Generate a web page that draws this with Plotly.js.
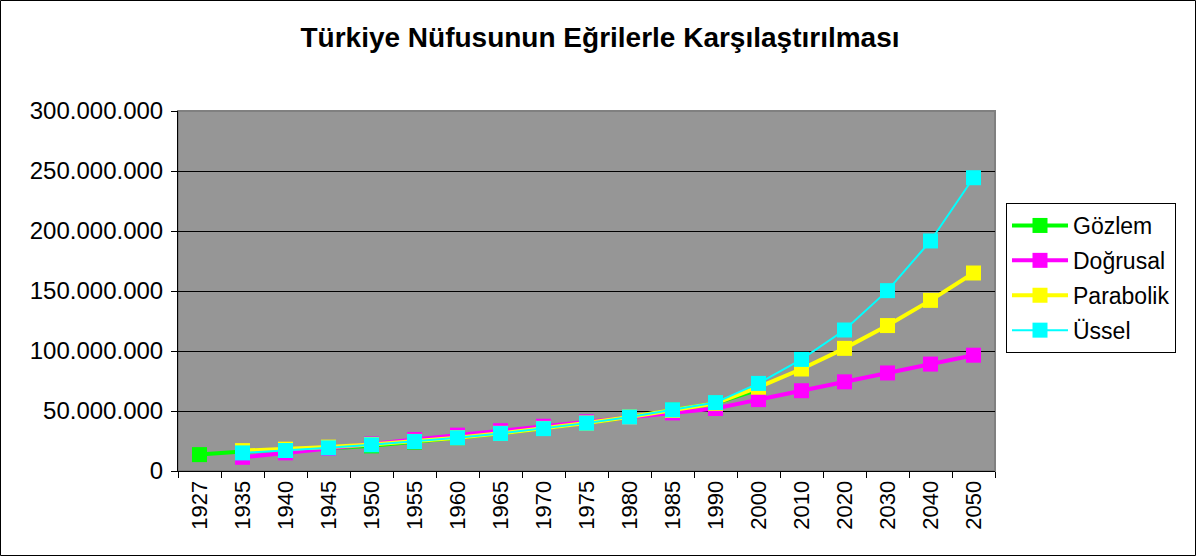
<!DOCTYPE html>
<html>
<head>
<meta charset="utf-8">
<script src="https://cdn.plot.ly/plotly-3.0.1.min.js"></script>
<style>html,body{margin:0;padding:0;background:#fff;}#chart{width:1197px;height:556px;}</style>
</head>
<body>
<div id="chart"></div>
<script>
const years = ['1927','1935','1940','1945','1950','1955','1960','1965','1970','1975','1980','1985','1990','2000','2010','2020','2030','2040','2050'];

const gozlemYears = ['1927','1935','1940','1945','1950','1955','1960','1965','1970','1975','1980','1985','1990','2000'];
const gozlem = [13648270, 16158018, 17820950, 18790174, 20947188, 24064763, 27754820, 31391421, 35605176, 40347719, 44736957, 50664458, 56473035, 67803927];

const fitYears = ['1935','1940','1945','1950','1955','1960','1965','1970','1975','1980','1985','1990','2000','2010','2020','2030','2040','2050'];
const dogrusal = [11400000, 15100000, 18800000, 22500000, 26200000, 29900000, 33600000, 37300000, 41000000, 44700000, 48400000, 52100000, 59500000, 66900000, 74300000, 81700000, 89100000, 96500000];
const parabolik = [17000000, 18200000, 19900000, 22100000, 24700000, 27800000, 31400000, 35500000, 40000000, 45000000, 50500000, 56400000, 69800000, 85000000, 102200000, 121200000, 142200000, 165000000];
const ussel = [15100000, 17100000, 19300000, 21800000, 24600000, 27700000, 31300000, 35300000, 39900000, 45000000, 51000000, 57000000, 73000000, 93000000, 117500000, 150300000, 191700000, 244400000];

const seriesNames = ['Gözlem', 'Doğrusal', 'Parabolik', 'Üssel'];
const seriesColors = ['#00FF00', '#FF00FF', '#FFFF00', '#00FFFF'];
const lineWidths = [4, 4, 4, 2];

const xs = [gozlemYears, fitYears, fitYears, fitYears];
const ys = [gozlem, dogrusal, parabolik, ussel];

const traces = seriesNames.map((n, i) => ({
  type: 'scatter',
  mode: 'lines+markers',
  name: n,
  x: xs[i],
  y: ys[i],
  legendgroup: 'g' + i,
  line: {color: seriesColors[i], width: lineWidths[i]},
  marker: {symbol: 'square', size: 15, color: seriesColors[i]},
  hoverinfo: 'x+y+name'
}));

const FONT = 'Liberation Sans, Arial, sans-serif';
const L = 178, R = 995, T = 111, B = 471, W = 1197, H = 556;
const pw = R - L, ph = B - T;
function px(x){ return (x - L) / pw; }
function py(y){ return (B - y) / ph; }

const layout = {
  width: W, height: H,
  margin: {l: L, r: W - R, t: T, b: H - B, pad: 0},
  paper_bgcolor: '#ffffff',
  plot_bgcolor: '#969696',
  separators: ',.',
  showlegend: true,
  title: {
    text: '<b>Türkiye Nüfusunun Eğrilerle Karşılaştırılması</b>',
    font: {family: FONT, size: 28, color: '#000'},
    x: 600 / W, xref: 'container', xanchor: 'center',
    y: 1 - 37 / H, yref: 'container', yanchor: 'middle'
  },
  xaxis: {
    type: 'category',
    categoryorder: 'array',
    categoryarray: years,
    tickmode: 'array',
    tickvals: years,
    ticktext: years,
    tickangle: -90,
    tickson: 'boundaries',
    ticks: 'outside',
    ticklen: 6,
    tickcolor: '#000',
    tickfont: {family: FONT, size: 22, color: '#000'},
    showgrid: false,
    showline: true,
    linecolor: '#000',
    linewidth: 1,
    zeroline: false,
    fixedrange: true,
    range: [-0.5, 18.5]
  },
  yaxis: {
    range: [0, 300000000],
    tickmode: 'array',
    tickvals: [0, 50000000, 100000000, 150000000, 200000000, 250000000, 300000000],
    tickformat: ',d',
    ticks: 'outside',
    ticklen: 6,
    tickcolor: '#000',
    tickfont: {family: FONT, size: 24, color: '#000'},
    showgrid: true,
    gridcolor: '#000',
    gridwidth: 1,
    showline: true,
    linecolor: '#000',
    linewidth: 1,
    zeroline: false,
    fixedrange: true,
    ticklabelstandoff: 3
  },
  legend: {
    x: px(1006), xanchor: 'left',
    y: py(203), yanchor: 'top',
    bgcolor: '#ffffff',
    bordercolor: '#000',
    borderwidth: 1,
    font: {family: FONT, size: 23, color: '#000'},
    traceorder: 'grouped',
    tracegroupgap: 2,
    itemwidth: 56,
    itemclick: false,
    itemdoubleclick: false
  },
  shapes: [
    {type: 'rect', xref: 'paper', yref: 'paper', x0: 0, x1: 1, y0: 0, y1: 1,
     line: {color: '#808080', width: 2}, layer: 'below'},
    {type: 'rect', xref: 'paper', yref: 'paper',
     x0: px(0.5), x1: px(1195.5), y0: py(555.5), y1: py(0.5),
     line: {color: '#000', width: 1}, fillcolor: 'rgba(0,0,0,0)', layer: 'above'}
  ]
};

Plotly.newPlot('chart', traces, layout, {displayModeBar: false, staticPlot: true});
</script>
</body>
</html>
